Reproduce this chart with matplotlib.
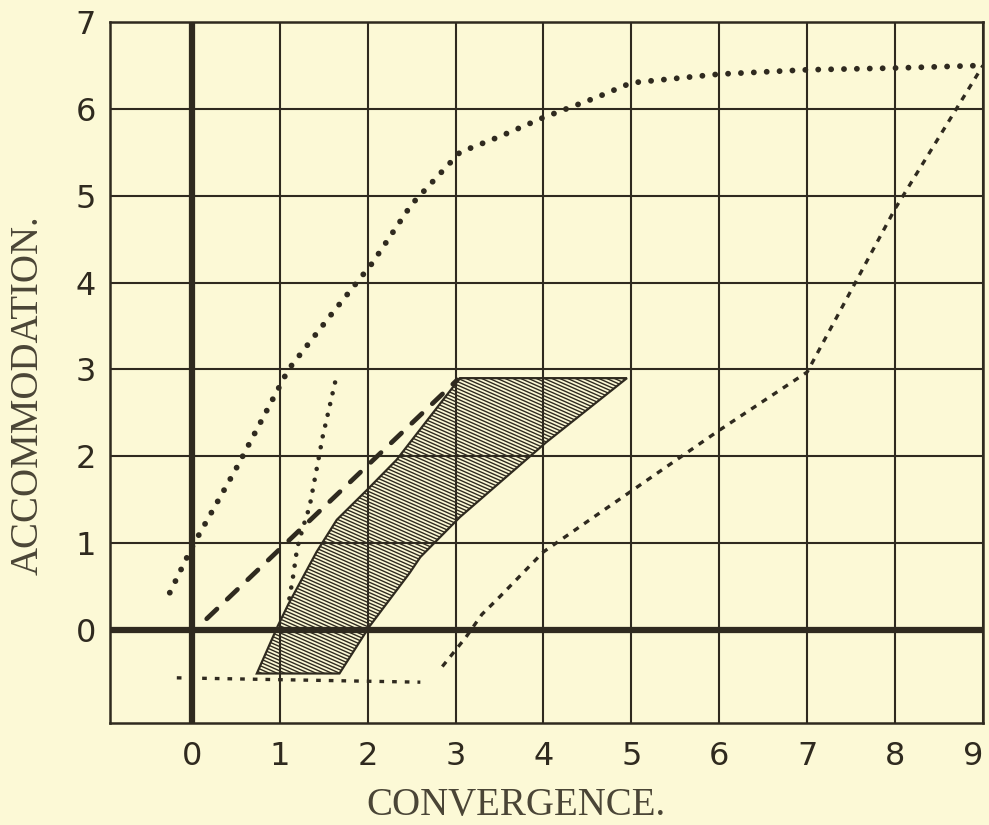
import matplotlib.pyplot as plt
import numpy as np
from matplotlib.patches import Polygon
from matplotlib.collections import LineCollection

# ---- data ----
x_ticks = [0, 1, 2, 3, 4, 5, 6, 7, 8, 9]
y_ticks = [0, 1, 2, 3, 4, 5, 6, 7]

# upper curve, large dots
upper_x = [-0.25, 0.0, 0.5, 1.1, 1.6, 2.05, 2.5, 3.05, 3.5, 4.0, 4.6, 5.0, 6.0, 7.0, 8.0, 9.0]
upper_y = [0.43, 0.95, 1.85, 3.0, 3.65, 4.22, 4.9, 5.5, 5.68, 5.9, 6.13, 6.3, 6.4, 6.45, 6.47, 6.5]

# steep curve, small dots
steep_x = [1.63, 1.49, 1.42, 1.34, 1.28, 1.2, 1.15, 1.1]
steep_y = [2.85, 2.23, 1.85, 1.42, 1.23, 0.95, 0.6, 0.3]

# long-dash straight line
dash_x = [0.17, 3.02]
dash_y = [0.13, 2.88]

# right curve, short dashes
right_x = [2.85, 3.12, 3.3, 3.5, 4.0, 5.0, 6.0, 7.0, 8.0, 9.0]
right_y = [-0.42, -0.08, 0.18, 0.38, 0.9, 1.6, 2.3, 2.97, 4.85, 6.5]

# low horizontal dotted line
low_x = [-0.17, 2.6]
low_y = [-0.55, -0.6]

# hatched band (left edge up, then right edge down)
band_left_x = [0.74, 0.98, 1.1, 1.42, 1.65, 2.0, 2.33, 3.05]
band_left_y = [-0.5, 0.05, 0.3, 0.9, 1.27, 1.62, 1.96, 2.9]
band_right_x = [4.95, 4.03, 3.05, 2.6, 2.48, 2.02, 1.68]
band_right_y = [2.9, 2.16, 1.3, 0.84, 0.66, 0.04, -0.5]

paper = '#fcf9d6'
ink = '#2f2a1f'

fig = plt.figure(figsize=(9.89, 8.25), dpi=100, facecolor=paper)
ax = fig.add_axes([110 / 989, 1 - 723 / 825, 873 / 989, 701 / 825])
ax.set_facecolor(paper)
ax.set_xlim(-0.93, 9.0)
ax.set_ylim(-1.07, 7.0)

# grid and the two heavy axes
ax.set_xticks(x_ticks)
ax.set_yticks(y_ticks)
ax.grid(True, color=ink, lw=1.5)
ax.set_axisbelow(True)
ax.axvline(0, color=ink, lw=4.5, zorder=1)
ax.axhline(0, color=ink, lw=4.5, zorder=1)
for s in ax.spines.values():
    s.set_color(ink)
    s.set_linewidth(1.8)

ax.tick_params(length=0, labelsize=23, labelcolor=ink)
ax.tick_params(axis='x', pad=13)
ax.tick_params(axis='y', pad=10)
ax.get_xticklabels()[-1].set_horizontalalignment('right')

# hatched band
band = Polygon(list(zip(band_left_x + band_right_x, band_left_y + band_right_y)),
               closed=True, facecolor='none', edgecolor=ink, lw=1.6, zorder=3)
ax.add_patch(band)
slope = -0.45
cs = np.arange(-0.3, 5.3, 0.04)
xs = np.array([0.5, 5.2])
segs = [np.column_stack([xs, slope * xs + c]) for c in cs]
hatch = LineCollection(segs, colors=ink, linewidths=1.0, zorder=3)
ax.add_collection(hatch)
hatch.set_clip_path(band)

# curves
ax.plot(upper_x, upper_y, color=ink, lw=4.2, ls=(0, (0.01, 2.2)),
        dash_capstyle='round', zorder=4)
ax.plot(steep_x, steep_y, color=ink, lw=3.3, ls=(0, (0.01, 2.4)),
        dash_capstyle='round', zorder=4)
ax.plot(dash_x, dash_y, color=ink, lw=3.4, ls=(0, (3.0, 3.0)),
        dash_capstyle='round', zorder=4)
ax.plot(right_x, right_y, color=ink, lw=2.4, ls=(0, (1.8, 2.0)), zorder=4)
ax.plot(low_x, low_y, color=ink, lw=2.4, ls=(0, (1.4, 2.4)), zorder=4)

# axis titles
fig.text(516 / 989, 1 - 806 / 825, 'CONVERGENCE.', ha='center', va='center',
         family='Liberation Serif', fontsize=28, color='#4a4536')
fig.text(28 / 989, 1 - 395 / 825, 'ACCOMMODATION.', ha='center', va='center',
         rotation=90, family='Liberation Serif', fontsize=28, color='#4a4536')

fig.savefig('out.png', dpi=100, facecolor=paper)
